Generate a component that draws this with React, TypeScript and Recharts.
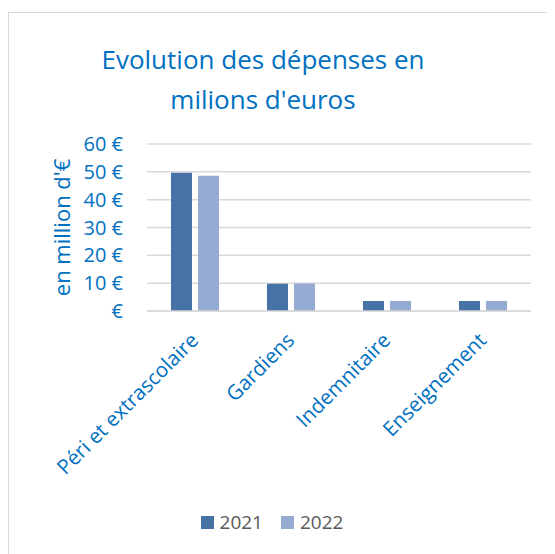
import React from "react";
import { BarChart, Bar, XAxis, YAxis, CartesianGrid } from "recharts";

const categories = ["Péri et extrascolaire", "Gardiens", "Indemnitaire", "Enseignement"];
const values2021 = [49.7, 9.8, 3.6, 3.6];
const values2022 = [48.6, 9.9, 3.6, 3.6];
const yTicks = [0, 10, 20, 30, 40, 50, 60];
const seriesNames = ["2021", "2022"];

const BLUE = "#0070C0";
const C2021 = "#4672A5";
const C2022 = "#95ABD1";
const FONT = "'Open Sans', sans-serif";

const data = categories.map((name, i) => ({
  name,
  y2021: values2021[i],
  y2022: values2022[i],
}));

const CategoryTick = ({ x, y, payload }: any) => (
  <text
    x={x - 1}
    y={y + 17}
    transform={`rotate(-45, ${x - 1}, ${y + 17})`}
    textAnchor="end"
    dominantBaseline="central"
    fill={BLUE}
    fontSize={20.5}
    fontFamily={FONT}
  >
    {payload.value}
  </text>
);

export default function App() {
  const colors = [C2021, C2022];
  return (
    <div
      style={{
        position: "relative",
        marginTop: 4,
        width: 560,
        height: 560,
        border: "1px solid #d9d9d9",
        boxSizing: "border-box",
        fontFamily: FONT,
      }}
    >
      <div
        style={{
          position: "absolute",
          top: 26,
          left: 0,
          width: 508,
          textAlign: "center",
          color: BLUE,
          fontSize: 26,
          lineHeight: "40px",
        }}
      >
        Evolution des dépenses en
        <br />
        milions d'euros
      </div>
      <BarChart
        width={546}
        height={541}
        data={data}
        margin={{ top: 131, right: 24, bottom: 0, left: 0 }}
        barCategoryGap="25%"
        barGap={6}
      >
        <CartesianGrid vertical={false} stroke="#d9d9d9" strokeWidth={1.5} />
        <XAxis
          dataKey="name"
          axisLine={{ stroke: "#d9d9d9", strokeWidth: 1.5 }}
          tickLine={false}
          interval={0}
          height={243}
          tick={<CategoryTick />}
        />
        <YAxis
          width={138}
          domain={[0, 60]}
          ticks={yTicks}
          interval={0}
          axisLine={false}
          tickLine={false}
          tickSize={0}
          tickMargin={24}
          tickFormatter={(v: number) => (v === 0 ? "€" : `${v} €`)}
          tick={{ fill: BLUE, fontSize: 20, fontFamily: FONT }}
          label={{
            value: "en million d'€",
            angle: -90,
            position: "insideLeft",
            offset: 53,
            textAnchor: "middle",
            fill: BLUE,
            fontSize: 22,
            fontFamily: FONT,
          }}
        />
        <Bar dataKey="y2021" fill={C2021} barSize={21} isAnimationActive={false} />
        <Bar dataKey="y2022" fill={C2022} barSize={21} isAnimationActive={false} />
      </BarChart>
      <div
        style={{
          position: "absolute",
          top: 496,
          left: 0,
          width: 526,
          display: "flex",
          justifyContent: "center",
          gap: 18,
          fontSize: 19,
          color: "#595959",
        }}
      >
        {seriesNames.map((label, i) => (
          <div key={label} style={{ display: "flex", alignItems: "center", gap: 6 }}>
            <span style={{ width: 13, height: 13, background: colors[i], display: "inline-block" }} />
            <span>{label}</span>
          </div>
        ))}
      </div>
    </div>
  );
}
